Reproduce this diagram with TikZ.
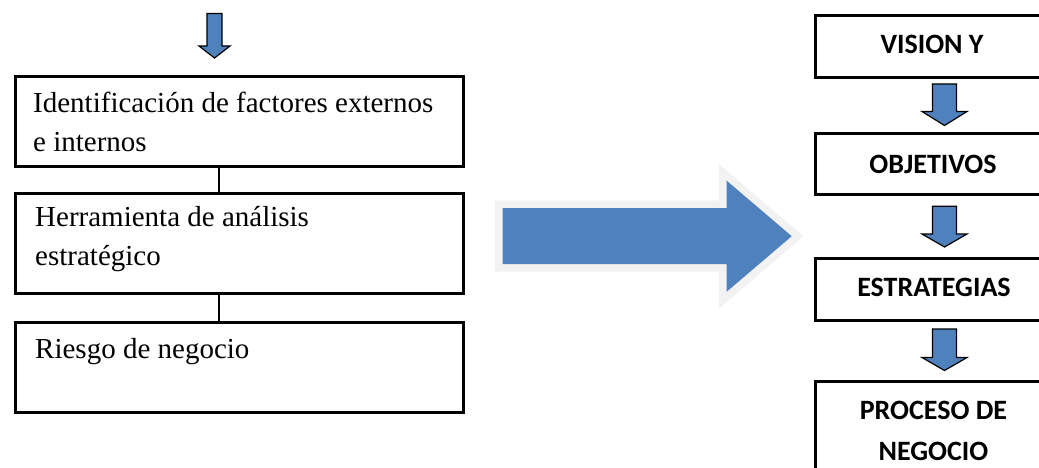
\documentclass[tikz,border=0pt]{standalone}
\usepackage{fontspec}
\setmainfont{Liberation Serif}
\newfontfamily\calib{Carlito}
\usetikzlibrary{calc}
\definecolor{ablue}{HTML}{4F81BD}
\definecolor{glow}{HTML}{F2F2F2}
\newcommand\blockarrow[5]{%
  \path let \p1=(#1), \p2=(#2) in
    [blk] (\x1-#3pt,\y1) -- (\x1+#3pt,\y1) -- (\x1+#3pt,\y2+#5pt) -- (\x1+#4pt,\y2+#5pt)
      -- (\x1,\y2) -- (\x1-#4pt,\y2+#5pt) -- (\x1-#3pt,\y2+#5pt) -- cycle;}
\begin{document}
\begin{tikzpicture}[x=1pt,y=-1pt,
  lbox/.style={draw, line width=3pt, minimum width=448pt, inner sep=0pt, anchor=north west},
  rbox/.style={draw, line width=3pt, minimum width=237.6pt, inner sep=0pt, anchor=north west},
  ltext/.style={inner sep=0pt, anchor=base west, align=left, font=\fontsize{29}{39}\selectfont},
  rtext/.style={inner sep=0pt, anchor=base, align=center, font=\calib\bfseries\fontsize{28}{40.7}\selectfont},
  blk/.style={fill=ablue, draw=black, line width=1.2pt, line join=miter},
  conn/.style={draw, line width=1.3pt}]
\useasboundingbox (0,0) rectangle (1039,468);
\clip (0,0) rectangle (1039,468);
% left boxes
\node[lbox, minimum height=90pt] (b1) at (13.5,75.5) {};
\node[lbox, minimum height=100pt] (b2) at (13.5,191.5) {};
\node[lbox, minimum height=90pt] (b3) at (13.5,320.5) {};
% (base anchor of a multi-line node = baseline of its last line)
\node[ltext] (t1) at (33,152) {Identificación de factores externos\\e internos};
\node[ltext] (t2) at (35,265) {Herramienta de análisis\\estratégico};
\node[ltext] (t3) at (35,358) {Riesgo de negocio};
\draw[conn] ($(b1.south)+(-20,0)$) -- ($(b2.north)+(-20,0)$);
\draw[conn] ($(b2.south)+(-20,0)$) -- ($(b3.north)+(-20,0)$);
% top-left arrow
\coordinate (s0) at (214.5,13.5);
\coordinate (e0) at ($(b1.north)+(-22.5,-17.5)$);
\blockarrow{s0}{e0}{7.5}{15.5}{12}
% big arrow
\coordinate (ba1) at (502.7,208);
\coordinate (ba2) at (726.7,208);
\coordinate (ba3) at (726.7,180.7);
\coordinate (ba4) at (791.7,236.2);
\coordinate (ba5) at (726.7,291.7);
\coordinate (ba6) at (726.7,264);
\coordinate (ba7) at (502.7,264);
\draw[glow, line width=15.4pt, line join=miter, miter limit=10]
  (ba1) -- (ba2) -- (ba3) -- (ba4) -- (ba5) -- (ba6) -- (ba7) -- cycle;
\fill[ablue] (ba1) -- (ba2) -- (ba3) -- (ba4) -- (ba5) -- (ba6) -- (ba7) -- cycle;
% right boxes
\node[rbox, minimum height=61.6pt] (v) at (814.2,14.2) {};
\node[rbox, minimum height=60.6pt] (o) at (814.2,132.2) {};
\node[rbox, minimum height=62.7pt] (e) at (814.2,256.5) {};
\node[rbox, minimum height=120pt] (p) at (814.2,379.8) {};
\node[rtext] (tv) at (932,53.3) {VISION Y};
\node[rtext] (to) at (933,173.3) {OBJETIVOS};
\node[rtext] (te) at (934,296.7) {ESTRATEGIAS};
\node[rtext] (tp) at (933.5,460) {PROCESO DE\\NEGOCIO};
% right arrows
\blockarrow{$(v.south)+(10,5.2)$}{$(o.north)+(10,-6.7)$}{12}{22.5}{14}
\blockarrow{$(o.south)+(10,10.5)$}{$(e.north)+(10,-9.5)$}{12}{22.5}{13}
\blockarrow{$(e.south)+(10,6.8)$}{$(p.north)+(10,-9.3)$}{12}{22.5}{13}
\end{tikzpicture}
\end{document}
